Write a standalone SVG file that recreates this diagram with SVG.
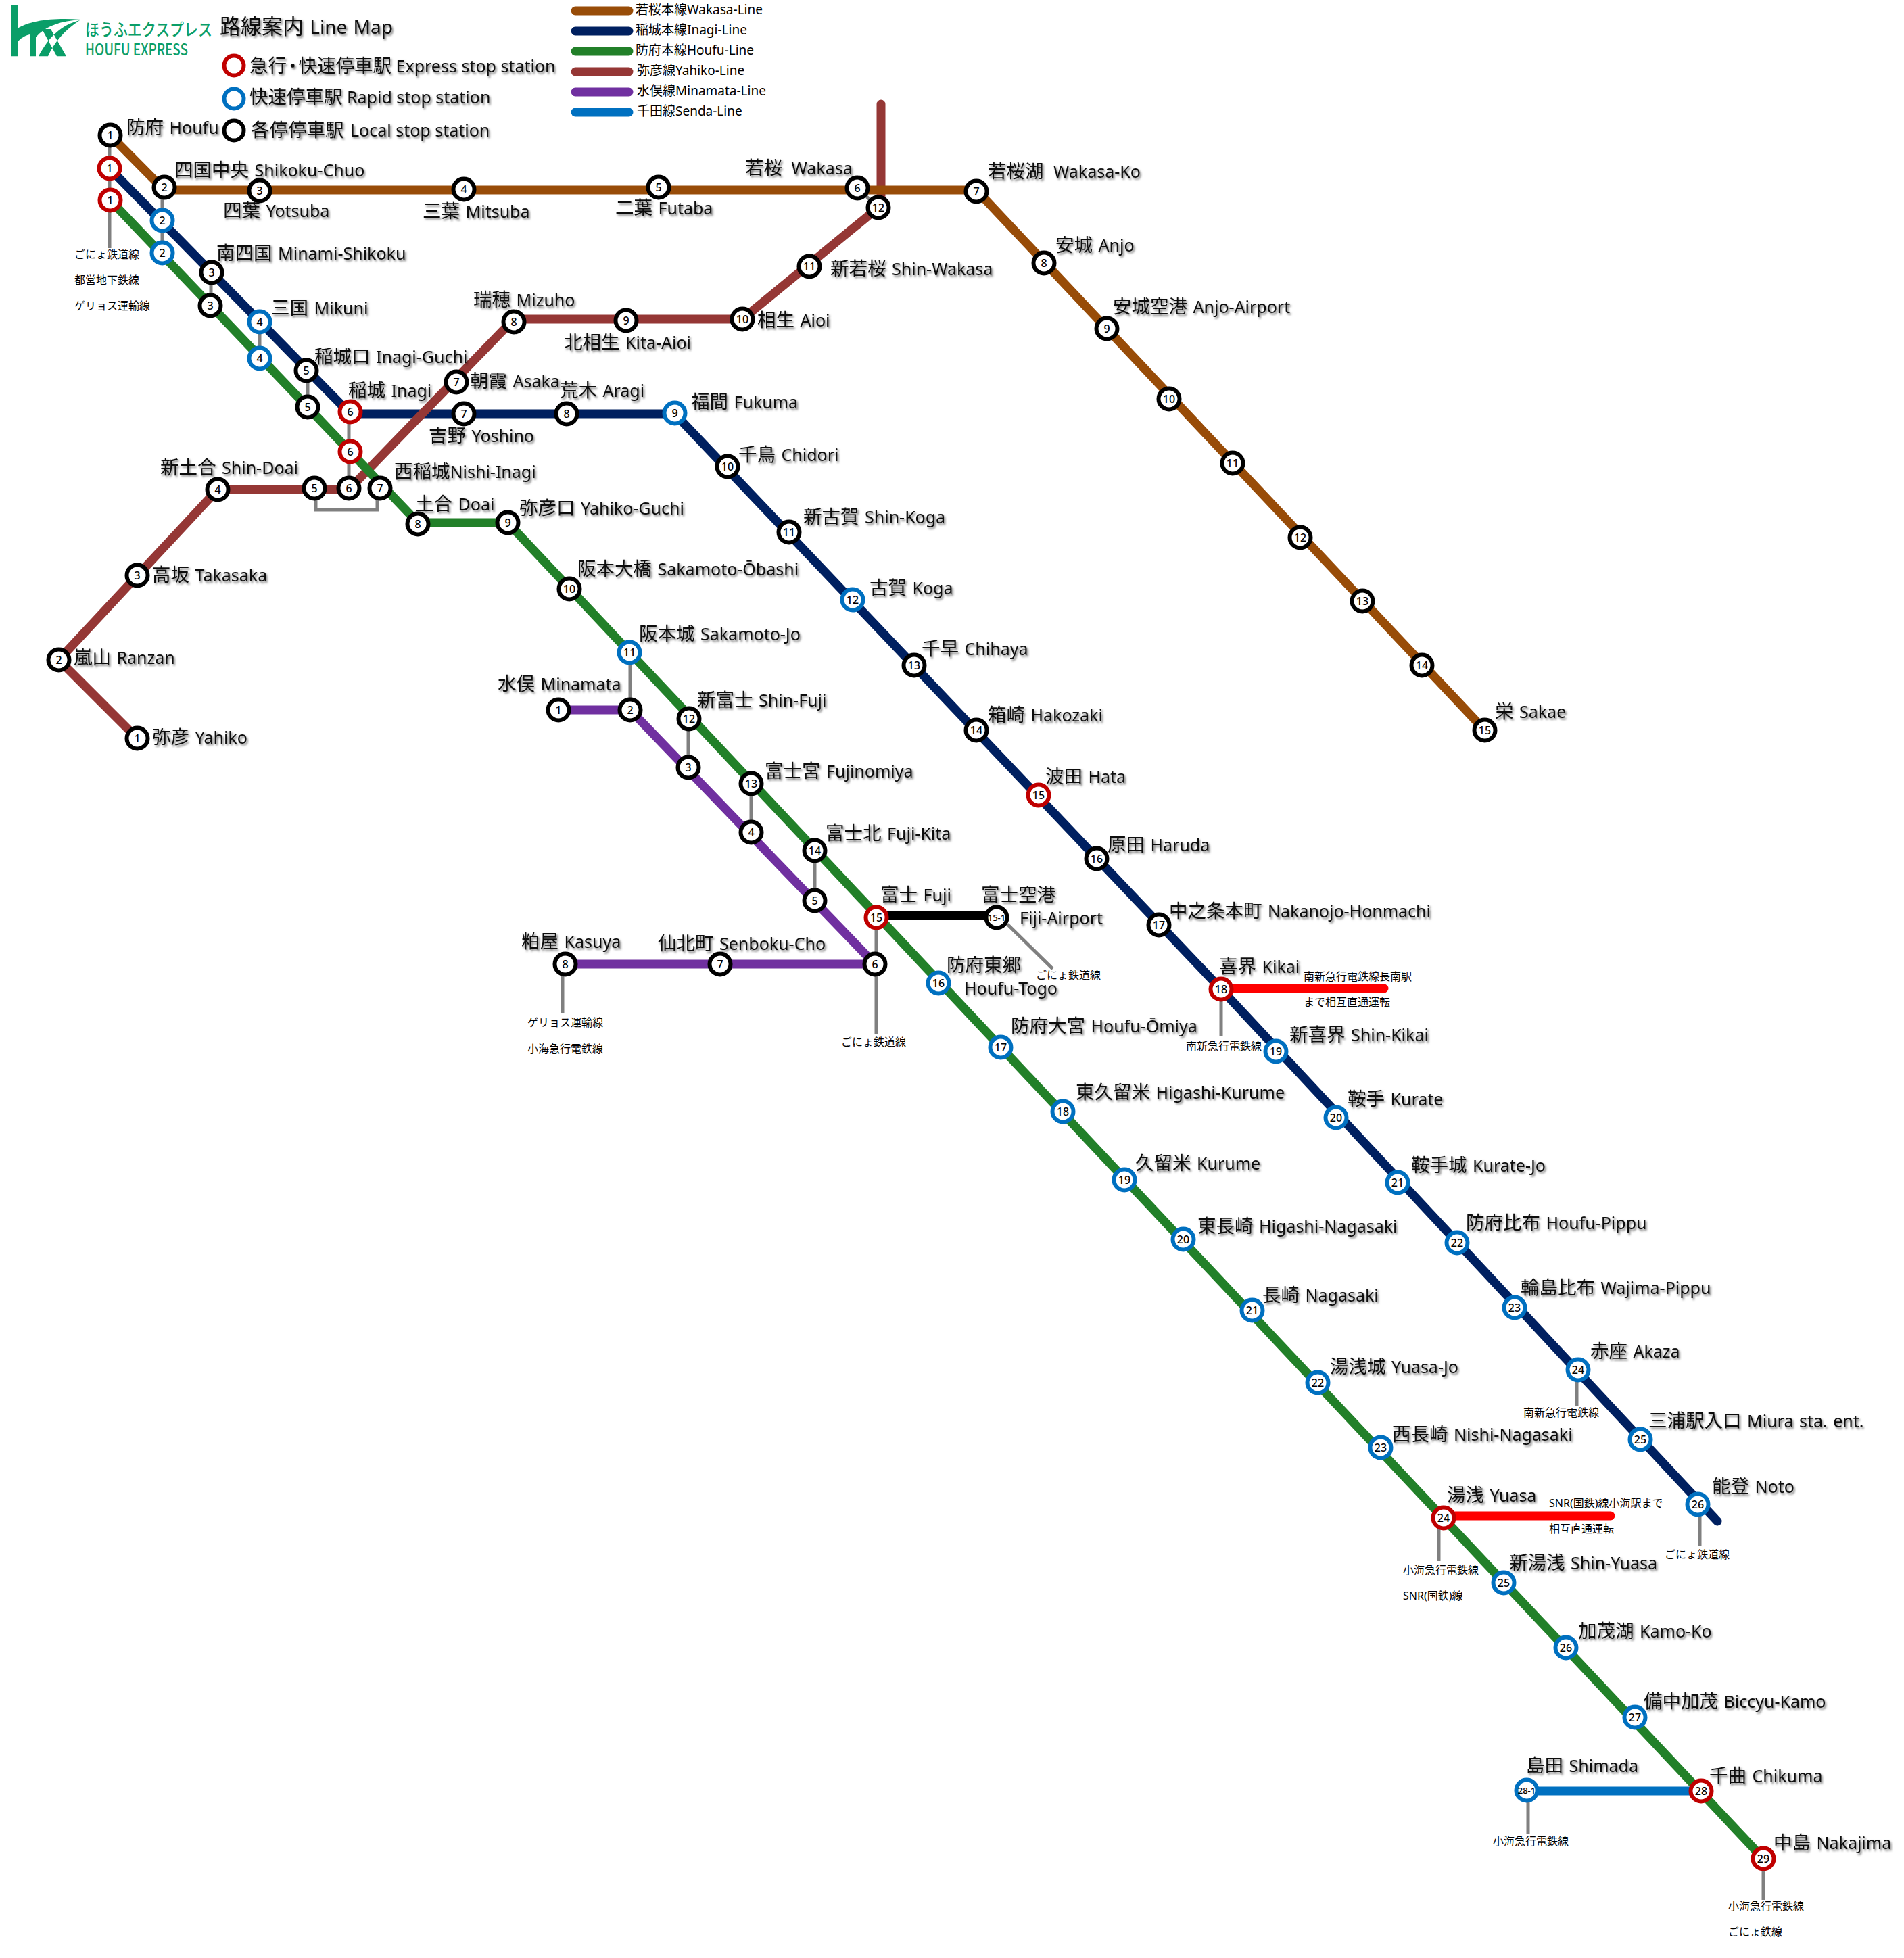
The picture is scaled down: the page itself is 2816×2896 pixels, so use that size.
<svg xmlns="http://www.w3.org/2000/svg" width="2816" height="2896" viewBox="0 0 2816 2896">
<defs>
<filter id="sh" x="-5%" y="-20%" width="110%" height="150%"><feDropShadow dx="2" dy="2.5" stdDeviation="1.6" flood-color="#000" flood-opacity="0.55"/></filter>
</defs>
<style>
text{font-family:"Noto Sans","Noto Sans CJK JP",sans-serif;fill:#000}
.t{font-size:25px;word-spacing:2px;fill:#111;filter:url(#sh)}
.j{font-size:27.5px}
.h{font-size:28px}
.hj{font-size:31px}
.m{font-size:19px}
.s{font-size:16px}
.n{font-size:16px;font-weight:500;text-anchor:middle}
.n2{font-size:13px;font-weight:500;text-anchor:middle}
.lg{fill:#0a9e68;font-weight:500;font-family:"Noto Sans CJK JP","Noto Sans",sans-serif}
.tight{word-spacing:0}
circle{fill:#fff;stroke-width:6}
.k{stroke:#000}.r{stroke:#c00000}.b{stroke:#0070c0}
.l{fill:none;stroke-width:13;stroke-linejoin:round}
.g{fill:none;stroke:#808080;stroke-width:5}
.cw{stroke:#984c08}.ci{stroke:#002060}.ch{stroke:#228029}.cy{stroke:#953735}.cm{stroke:#7030a0}.cs{stroke:#0070c0}.cr{stroke:#f00;stroke-linecap:round}.cb{stroke:#000}
</style>
<g id="logo">
<path fill="#0a9e68" d="M16.7 7.3H26V42C45 30 80 26 120 29C90 31 68 38 53 55V83.3H44V51C36 53 30 57 26 62V83.3H16.7Z"/>
<path fill="#0a9e68" d="M62 43H75L98 83.3H84ZM57 83.3H71C80 63 95 45 118 30C90 37 72 55 57 83.3Z"/>
<text class="lg" x="126" y="53" font-size="25" textLength="188" lengthAdjust="spacingAndGlyphs">ほうふエクスプレス</text>
<text class="lg" x="126" y="82" font-size="24" textLength="152" lengthAdjust="spacingAndGlyphs">HOUFU EXPRESS</text>
</g>
<g id="title"><text class="t h" x="325" y="50"><tspan class="hj">路線案内</tspan> Line Map</text></g>
<g id="legend-stops">
<circle class="r" cx="346" cy="97" r="14.5"/><text class="t tight" x="369" y="107"><tspan class="j">急行</tspan><tspan class="j" dx="-5">・</tspan><tspan class="j" dx="-5">快速停車駅</tspan> Express stop station</text>
<circle class="b" cx="346" cy="146" r="14.5"/><text class="t tight" x="369" y="153"><tspan class="j">快速停車駅</tspan> Rapid stop station</text>
<circle class="k" cx="346" cy="193" r="14.5"/><text class="t tight" x="371" y="202"><tspan class="j">各停停車駅</tspan> <tspan dx="3">Local stop station</tspan></text>
</g>
<g id="legend-lines">
<path class="l cw" stroke-linecap="round" d="M851 16H930"/><text class="m" x="940" y="21">若桜本線Wakasa-Line</text>
<path class="l ci" stroke-linecap="round" d="M851 46H930"/><text class="m" x="940" y="51">稲城本線Inagi-Line</text>
<path class="l ch" stroke-linecap="round" d="M851 76H930"/><text class="m" x="940" y="81">防府本線Houfu-Line</text>
<path class="l cy" stroke-linecap="round" d="M851 106H930"/><text class="m" x="942" y="111">弥彦線Yahiko-Line</text>
<path class="l cm" stroke-linecap="round" d="M851 136H930"/><text class="m" x="942" y="141">水俣線Minamata-Line</text>
<path class="l cs" stroke-linecap="round" d="M851 166H930"/><text class="m" x="942" y="171">千田線Senda-Line</text>
</g>
<g id="connectors">
<path class="g" d="M162 200V367M240 277V374M312 403V452M384 476V530M455 548V602M516 609V722M467 722V754H558V722M932 965V1050M1018 1063V1135M1111 1159V1231M1205 1258V1332M1296 1357V1530M832 1426V1498M1490 1367L1557 1433M1806 1463V1533M2332 2024V2079M2514 2225V2286M2128 2245V2309M2260 2648V2712M2608 2749V2810M1268 278L1299 307"/>
<path class="l ci" stroke-linecap="round" d="M162 249L518 612H998L1806 1463L2540 2250"/>
<path class="l cy" stroke-linecap="round" d="M203 1092L87 976L322 724H516L760 472H1098L1299 307"/>
<path class="l cy" stroke-linecap="round" d="M1303 154V290"/>
<path class="l ch" d="M163 296L618 773H751L2608 2749"/>
<path class="l cm" d="M825 1050H932L1294 1426H836"/>
<path class="l cw" d="M163 200L243 281H1444L2196 1080"/>
<path class="l cb" d="M1296 1354H1474"/>
<path class="l cr" d="M1806 1462H2047"/>
<path class="l cr" d="M2135 2242H2382"/>
<path class="l cs" d="M2258 2649H2516"/>
</g>
<g id="notes">
<text class="s" x="110" y="382">ごにょ鉄道線</text>
<text class="s" x="110" y="420">都営地下鉄線</text>
<text class="s" x="110" y="458">ゲリョス運輸線</text>
<text class="s" x="780" y="1518">ゲリョス運輸線</text>
<text class="s" x="780" y="1557">小海急行電鉄線</text>
<text class="s" x="1244" y="1547">ごにょ鉄道線</text>
<text class="s" x="1532" y="1448">ごにょ鉄道線</text>
<text class="s" x="1928" y="1450">南新急行電鉄線長南駅</text>
<text class="s" x="1928" y="1488">まで相互直通運転</text>
<text class="s" x="1754" y="1553">南新急行電鉄線</text>
<text class="s" x="2253" y="2095">南新急行電鉄線</text>
<text class="s" x="2291" y="2229">SNR(国鉄)線小海駅まで</text>
<text class="s" x="2291" y="2267">相互直通運転</text>
<text class="s" x="2462" y="2305">ごにょ鉄道線</text>
<text class="s" x="2075" y="2328">小海急行電鉄線</text>
<text class="s" x="2075" y="2366">SNR(国鉄)線</text>
<text class="s" x="2208" y="2729">小海急行電鉄線</text>
<text class="s" x="2556" y="2825">小海急行電鉄線</text>
<text class="s" x="2556" y="2863">ごにょ鉄線</text>
</g>
<g id="wakasa-line">
<g id="w1"><circle class="k" cx="163" cy="200" r="15.5"/><text class="n" x="163" y="206">1</text><text class="t" x="187" y="198"><tspan class="j">防府</tspan> Houfu</text></g>
<g id="w2"><circle class="k" cx="243" cy="277" r="15.5"/><text class="n" x="243" y="283">2</text><text class="t" x="258" y="261"><tspan class="j">四国中央</tspan> Shikoku-Chuo</text></g>
<g id="w3"><circle class="k" cx="384" cy="282" r="15.5"/><text class="n" x="384" y="288">3</text><text class="t" x="330" y="321"><tspan class="j">四葉</tspan> Yotsuba</text></g>
<g id="w4"><circle class="k" cx="686" cy="280" r="15.5"/><text class="n" x="686" y="286">4</text><text class="t" x="625" y="322"><tspan class="j">三葉</tspan> Mitsuba</text></g>
<g id="w5"><circle class="k" cx="974" cy="277" r="15.5"/><text class="n" x="974" y="283">5</text><text class="t" x="910" y="317"><tspan class="j">二葉</tspan> Futaba</text></g>
<g id="w6"><circle class="k" cx="1268" cy="278" r="15.5"/><text class="n" x="1268" y="284">6</text><text class="t" x="1102" y="258"><tspan class="j">若桜</tspan> <tspan dx="5">Wakasa</tspan></text></g>
<g id="w7"><circle class="k" cx="1444" cy="283" r="15.5"/><text class="n" x="1444" y="289">7</text><text class="t" x="1461" y="263"><tspan class="j">若桜湖</tspan> <tspan dx="6">Wakasa-Ko</tspan></text></g>
<g id="w8"><circle class="k" cx="1544" cy="389" r="15.5"/><text class="n" x="1544" y="395">8</text><text class="t" x="1561" y="372"><tspan class="j">安城</tspan> Anjo</text></g>
<g id="w9"><circle class="k" cx="1637" cy="486" r="15.5"/><text class="n" x="1637" y="492">9</text><text class="t" x="1646" y="463"><tspan class="j">安城空港</tspan> Anjo-Airport</text></g>
<g id="w10"><circle class="k" cx="1729" cy="590" r="15.5"/><text class="n" x="1729" y="596">10</text></g>
<g id="w11"><circle class="k" cx="1823" cy="685" r="15.5"/><text class="n" x="1823" y="691">11</text></g>
<g id="w12"><circle class="k" cx="1923" cy="795" r="15.5"/><text class="n" x="1923" y="801">12</text></g>
<g id="w13"><circle class="k" cx="2015" cy="889" r="15.5"/><text class="n" x="2015" y="895">13</text></g>
<g id="w14"><circle class="k" cx="2103" cy="984" r="15.5"/><text class="n" x="2103" y="990">14</text></g>
<g id="w15"><circle class="k" cx="2196" cy="1080" r="15.5"/><text class="n" x="2196" y="1086">15</text><text class="t" x="2211" y="1062"><tspan class="j">栄</tspan> Sakae</text></g>
</g>
<g id="inagi-line">
<g id="i1"><circle class="r" cx="162" cy="249" r="15.5"/><text class="n" x="162" y="255">1</text></g>
<g id="i2"><circle class="b" cx="240" cy="326" r="15.5"/><text class="n" x="240" y="332">2</text></g>
<g id="i3"><circle class="k" cx="313" cy="403" r="15.5"/><text class="n" x="313" y="409">3</text><text class="t" x="320" y="384"><tspan class="j">南四国</tspan> Minami-Shikoku</text></g>
<g id="i4"><circle class="b" cx="384" cy="476" r="15.5"/><text class="n" x="384" y="482">4</text><text class="t" x="401" y="465"><tspan class="j">三国</tspan> Mikuni</text></g>
<g id="i5"><circle class="k" cx="453" cy="548" r="15.5"/><text class="n" x="453" y="554">5</text><text class="t" x="465" y="537"><tspan class="j">稲城口</tspan> Inagi-Guchi</text></g>
<g id="i6"><circle class="r" cx="518" cy="609" r="15.5"/><text class="n" x="518" y="615">6</text><text class="t" x="515" y="587"><tspan class="j">稲城</tspan> Inagi</text></g>
<g id="i7"><circle class="k" cx="686" cy="612" r="15.5"/><text class="n" x="686" y="618">7</text><text class="t" x="634" y="654"><tspan class="j">吉野</tspan> Yoshino</text></g>
<g id="i8"><circle class="k" cx="838" cy="612" r="15.5"/><text class="n" x="838" y="618">8</text><text class="t" x="828" y="587"><tspan class="j">荒木</tspan> Aragi</text></g>
<g id="i9"><circle class="b" cx="998" cy="611" r="15.5"/><text class="n" x="998" y="617">9</text><text class="t" x="1022" y="604"><tspan class="j">福間</tspan> Fukuma</text></g>
<g id="i10"><circle class="k" cx="1076" cy="690" r="15.5"/><text class="n" x="1076" y="696">10</text><text class="t" x="1092" y="682"><tspan class="j">千鳥</tspan> Chidori</text></g>
<g id="i11"><circle class="k" cx="1167" cy="787" r="15.5"/><text class="n" x="1167" y="793">11</text><text class="t" x="1188" y="774"><tspan class="j">新古賀</tspan> Shin-Koga</text></g>
<g id="i12"><circle class="b" cx="1261" cy="887" r="15.5"/><text class="n" x="1261" y="893">12</text><text class="t" x="1286" y="879"><tspan class="j">古賀</tspan> Koga</text></g>
<g id="i13"><circle class="k" cx="1352" cy="984" r="15.5"/><text class="n" x="1352" y="990">13</text><text class="t" x="1363" y="969"><tspan class="j">千早</tspan> Chihaya</text></g>
<g id="i14"><circle class="k" cx="1444" cy="1080" r="15.5"/><text class="n" x="1444" y="1086">14</text><text class="t" x="1461" y="1067"><tspan class="j">箱崎</tspan> Hakozaki</text></g>
<g id="i15"><circle class="r" cx="1536" cy="1176" r="15.5"/><text class="n" x="1536" y="1182">15</text><text class="t" x="1546" y="1158"><tspan class="j">波田</tspan> Hata</text></g>
<g id="i16"><circle class="k" cx="1622" cy="1270" r="15.5"/><text class="n" x="1622" y="1276">16</text><text class="t" x="1638" y="1259"><tspan class="j">原田</tspan> Haruda</text></g>
<g id="i17"><circle class="k" cx="1714" cy="1368" r="15.5"/><text class="n" x="1714" y="1374">17</text><text class="t" x="1729" y="1357"><tspan class="j">中之条本町</tspan> Nakanojo-Honmachi</text></g>
<g id="i18"><circle class="r" cx="1806" cy="1463" r="15.5"/><text class="n" x="1806" y="1469">18</text><text class="t" x="1803" y="1439"><tspan class="j">喜界</tspan> Kikai</text></g>
<g id="i19"><circle class="b" cx="1887" cy="1555" r="15.5"/><text class="n" x="1887" y="1561">19</text><text class="t" x="1907" y="1540"><tspan class="j">新喜界</tspan> Shin-Kikai</text></g>
<g id="i20"><circle class="b" cx="1976" cy="1653" r="15.5"/><text class="n" x="1976" y="1659">20</text><text class="t" x="1993" y="1635"><tspan class="j">鞍手</tspan> Kurate</text></g>
<g id="i21"><circle class="b" cx="2067" cy="1749" r="15.5"/><text class="n" x="2067" y="1755">21</text><text class="t" x="2087" y="1733"><tspan class="j">鞍手城</tspan> Kurate-Jo</text></g>
<g id="i22"><circle class="b" cx="2155" cy="1838" r="15.5"/><text class="n" x="2155" y="1844">22</text><text class="t" x="2168" y="1818"><tspan class="j">防府比布</tspan> Houfu-Pippu</text></g>
<g id="i23"><circle class="b" cx="2240" cy="1934" r="15.5"/><text class="n" x="2240" y="1940">23</text><text class="t" x="2249" y="1914"><tspan class="j">輪島比布</tspan> Wajima-Pippu</text></g>
<g id="i24"><circle class="b" cx="2334" cy="2026" r="15.5"/><text class="n" x="2334" y="2032">24</text><text class="t" x="2352" y="2008"><tspan class="j">赤座</tspan> Akaza</text></g>
<g id="i25"><circle class="b" cx="2426" cy="2129" r="15.5"/><text class="n" x="2426" y="2135">25</text><text class="t" x="2438" y="2111"><tspan class="j">三浦駅入口</tspan> Miura sta. ent.</text></g>
<g id="i26"><circle class="b" cx="2511" cy="2225" r="15.5"/><text class="n" x="2511" y="2231">26</text><text class="t" x="2532" y="2208"><tspan class="j">能登</tspan> Noto</text></g>
</g>
<g id="houfu-line">
<g id="h1"><circle class="r" cx="163" cy="296" r="15.5"/><text class="n" x="163" y="302">1</text></g>
<g id="h2"><circle class="b" cx="240" cy="374" r="15.5"/><text class="n" x="240" y="380">2</text></g>
<g id="h3"><circle class="k" cx="311" cy="452" r="15.5"/><text class="n" x="311" y="458">3</text></g>
<g id="h4"><circle class="b" cx="384" cy="530" r="15.5"/><text class="n" x="384" y="536">4</text></g>
<g id="h5"><circle class="k" cx="455" cy="602" r="15.5"/><text class="n" x="455" y="608">5</text></g>
<g id="h6"><circle class="r" cx="518" cy="668" r="15.5"/><text class="n" x="518" y="674">6</text></g>
<g id="h7"><circle class="k" cx="562" cy="722" r="15.5"/><text class="n" x="562" y="728">7</text><text class="t" x="583" y="707"><tspan class="j">西稲城</tspan>Nishi-Inagi</text></g>
<g id="h8"><circle class="k" cx="618" cy="775" r="15.5"/><text class="n" x="618" y="781">8</text><text class="t" x="614" y="755"><tspan class="j">土合</tspan> Doai</text></g>
<g id="h9"><circle class="k" cx="751" cy="773" r="15.5"/><text class="n" x="751" y="779">9</text><text class="t" x="768" y="761"><tspan class="j">弥彦口</tspan> Yahiko-Guchi</text></g>
<g id="h10"><circle class="k" cx="842" cy="871" r="15.5"/><text class="n" x="842" y="877">10</text><text class="t" x="854" y="851"><tspan class="j">阪本大橋</tspan> Sakamoto-Ōbashi</text></g>
<g id="h11"><circle class="b" cx="931" cy="965" r="15.5"/><text class="n" x="931" y="971">11</text><text class="t" x="945" y="947"><tspan class="j">阪本城</tspan> Sakamoto-Jo</text></g>
<g id="h12"><circle class="k" cx="1019" cy="1063" r="15.5"/><text class="n" x="1019" y="1069">12</text><text class="t" x="1031" y="1045"><tspan class="j">新富士</tspan> Shin-Fuji</text></g>
<g id="h13"><circle class="k" cx="1111" cy="1159" r="15.5"/><text class="n" x="1111" y="1165">13</text><text class="t" x="1131" y="1150"><tspan class="j">富士宮</tspan> Fujinomiya</text></g>
<g id="h14"><circle class="k" cx="1205" cy="1258" r="15.5"/><text class="n" x="1205" y="1264">14</text><text class="t" x="1221" y="1242"><tspan class="j">富士北</tspan> Fuji-Kita</text></g>
<g id="h15"><circle class="r" cx="1296" cy="1357" r="15.5"/><text class="n" x="1296" y="1363">15</text><text class="t" x="1302" y="1333"><tspan class="j">富士</tspan> Fuji</text></g>
<g id="h15-1"><circle class="k" cx="1474" cy="1357" r="15.5"/><text class="n2" x="1474" y="1362">15-1</text><text class="t" x="1451" y="1333"><tspan class="j">富士空港</tspan></text><text class="t" x="1508" y="1367">Fiji-Airport</text></g>
<g id="h16"><circle class="b" cx="1388" cy="1454" r="15.5"/><text class="n" x="1388" y="1460">16</text><text class="t" x="1400" y="1437"><tspan class="j">防府東郷</tspan></text><text class="t" x="1426" y="1471">Houfu-Togo</text></g>
<g id="h17"><circle class="b" cx="1480" cy="1549" r="15.5"/><text class="n" x="1480" y="1555">17</text><text class="t" x="1495" y="1527"><tspan class="j">防府大宮</tspan> Houfu-Ōmiya</text></g>
<g id="h18"><circle class="b" cx="1572" cy="1644" r="15.5"/><text class="n" x="1572" y="1650">18</text><text class="t" x="1591" y="1625"><tspan class="j">東久留米</tspan> Higashi-Kurume</text></g>
<g id="h19"><circle class="b" cx="1663" cy="1745" r="15.5"/><text class="n" x="1663" y="1751">19</text><text class="t" x="1679" y="1730"><tspan class="j">久留米</tspan> Kurume</text></g>
<g id="h20"><circle class="b" cx="1750" cy="1833" r="15.5"/><text class="n" x="1750" y="1839">20</text><text class="t" x="1771" y="1823"><tspan class="j">東長崎</tspan> Higashi-Nagasaki</text></g>
<g id="h21"><circle class="b" cx="1852" cy="1938" r="15.5"/><text class="n" x="1852" y="1944">21</text><text class="t" x="1867" y="1925"><tspan class="j">長崎</tspan> Nagasaki</text></g>
<g id="h22"><circle class="b" cx="1949" cy="2045" r="15.5"/><text class="n" x="1949" y="2051">22</text><text class="t" x="1967" y="2031"><tspan class="j">湯浅城</tspan> Yuasa-Jo</text></g>
<g id="h23"><circle class="b" cx="2042" cy="2141" r="15.5"/><text class="n" x="2042" y="2147">23</text><text class="t" x="2059" y="2131"><tspan class="j">西長崎</tspan> Nishi-Nagasaki</text></g>
<g id="h24"><circle class="r" cx="2135" cy="2245" r="15.5"/><text class="n" x="2135" y="2251">24</text><text class="t" x="2140" y="2221"><tspan class="j">湯浅</tspan> Yuasa</text></g>
<g id="h25"><circle class="b" cx="2224" cy="2341" r="15.5"/><text class="n" x="2224" y="2347">25</text><text class="t" x="2232" y="2321"><tspan class="j">新湯浅</tspan> Shin-Yuasa</text></g>
<g id="h26"><circle class="b" cx="2316" cy="2437" r="15.5"/><text class="n" x="2316" y="2443">26</text><text class="t" x="2334" y="2422"><tspan class="j">加茂湖</tspan> Kamo-Ko</text></g>
<g id="h27"><circle class="b" cx="2418" cy="2540" r="15.5"/><text class="n" x="2418" y="2546">27</text><text class="t" x="2431" y="2526"><tspan class="j">備中加茂</tspan> Biccyu-Kamo</text></g>
<g id="h28"><circle class="r" cx="2516" cy="2649" r="15.5"/><text class="n" x="2516" y="2655">28</text><text class="t" x="2528" y="2636"><tspan class="j">千曲</tspan> Chikuma</text></g>
<g id="h28-1"><circle class="b" cx="2258" cy="2648" r="15.5"/><text class="n2" x="2258" y="2653">28-1</text><text class="t" x="2257" y="2621"><tspan class="j">島田</tspan> Shimada</text></g>
<g id="h29"><circle class="r" cx="2608" cy="2749" r="15.5"/><text class="n" x="2608" y="2755">29</text><text class="t" x="2623" y="2735"><tspan class="j">中島</tspan> Nakajima</text></g>
</g>
<g id="yahiko-line">
<g id="y1"><circle class="k" cx="203" cy="1092" r="15.5"/><text class="n" x="203" y="1098">1</text><text class="t" x="225" y="1100"><tspan class="j">弥彦</tspan> Yahiko</text></g>
<g id="y2"><circle class="k" cx="87" cy="976" r="15.5"/><text class="n" x="87" y="982">2</text><text class="t" x="109" y="982"><tspan class="j">嵐山</tspan> Ranzan</text></g>
<g id="y3"><circle class="k" cx="203" cy="851" r="15.5"/><text class="n" x="203" y="857">3</text><text class="t" x="225" y="860"><tspan class="j">高坂</tspan> Takasaka</text></g>
<g id="y4"><circle class="k" cx="322" cy="724" r="15.5"/><text class="n" x="322" y="730">4</text><text class="t" x="237" y="701"><tspan class="j">新土合</tspan> Shin-Doai</text></g>
<g id="y5"><circle class="k" cx="465" cy="722" r="15.5"/><text class="n" x="465" y="728">5</text></g>
<g id="y6"><circle class="k" cx="516" cy="722" r="15.5"/><text class="n" x="516" y="728">6</text></g>
<g id="y7"><circle class="k" cx="675" cy="565" r="15.5"/><text class="n" x="675" y="571">7</text><text class="t" x="695" y="573"><tspan class="j">朝霞</tspan> Asaka</text></g>
<g id="y8"><circle class="k" cx="760" cy="476" r="15.5"/><text class="n" x="760" y="482">8</text><text class="t" x="700" y="453"><tspan class="j">瑞穂</tspan> Mizuho</text></g>
<g id="y9"><circle class="k" cx="926" cy="474" r="15.5"/><text class="n" x="926" y="480">9</text><text class="t" x="834" y="516"><tspan class="j">北相生</tspan> Kita-Aioi</text></g>
<g id="y10"><circle class="k" cx="1098" cy="472" r="15.5"/><text class="n" x="1098" y="478">10</text><text class="t" x="1120" y="483"><tspan class="j">相生</tspan> Aioi</text></g>
<g id="y11"><circle class="k" cx="1197" cy="394" r="15.5"/><text class="n" x="1197" y="400">11</text><text class="t" x="1228" y="407"><tspan class="j">新若桜</tspan> Shin-Wakasa</text></g>
<g id="y12"><circle class="k" cx="1299" cy="307" r="15.5"/><text class="n" x="1299" y="313">12</text></g>
</g>
<g id="minamata-line">
<g id="m1"><circle class="k" cx="826" cy="1050" r="15.5"/><text class="n" x="826" y="1056">1</text><text class="t" x="736" y="1021"><tspan class="j">水俣</tspan> Minamata</text></g>
<g id="m2"><circle class="k" cx="932" cy="1050" r="15.5"/><text class="n" x="932" y="1056">2</text></g>
<g id="m3"><circle class="k" cx="1018" cy="1135" r="15.5"/><text class="n" x="1018" y="1141">3</text></g>
<g id="m4"><circle class="k" cx="1111" cy="1231" r="15.5"/><text class="n" x="1111" y="1237">4</text></g>
<g id="m5"><circle class="k" cx="1205" cy="1332" r="15.5"/><text class="n" x="1205" y="1338">5</text></g>
<g id="m6"><circle class="k" cx="1294" cy="1426" r="15.5"/><text class="n" x="1294" y="1432">6</text></g>
<g id="m7"><circle class="k" cx="1065" cy="1426" r="15.5"/><text class="n" x="1065" y="1432">7</text><text class="t" x="973" y="1405"><tspan class="j">仙北町</tspan> Senboku-Cho</text></g>
<g id="m8"><circle class="k" cx="836" cy="1426" r="15.5"/><text class="n" x="836" y="1432">8</text><text class="t" x="771" y="1402"><tspan class="j">粕屋</tspan> Kasuya</text></g>
</g>
</svg>
